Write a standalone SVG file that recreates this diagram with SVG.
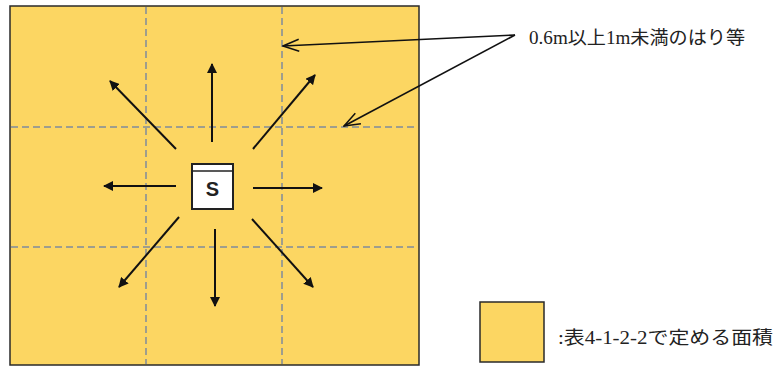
<svg xmlns="http://www.w3.org/2000/svg" width="777" height="367" viewBox="0 0 777 367">
<style>
.area{fill:#FCD662;stroke:#2a2a2a;stroke-width:1.5}
.grid{stroke:#7f8c9c;stroke-width:1.5;stroke-dasharray:7 4;fill:none}
.arr{stroke:#111;stroke-width:2;fill:none;marker-end:url(#solid)}
.call{stroke:#111;stroke-width:1.6;fill:none;marker-end:url(#open)}
.lbl{font-family:"Liberation Serif","Noto Sans CJK JP",serif;font-size:18px;fill:#222}
</style>
<defs>
<marker id="solid" viewBox="0 0 10 10" refX="9" refY="5" markerWidth="5" markerHeight="5" orient="auto" markerUnits="strokeWidth">
<path d="M0,0 L10,5 L0,10 z" fill="#111"/>
</marker>
<marker id="open" viewBox="0 0 18 14" refX="17" refY="7" markerWidth="18" markerHeight="14" orient="auto" markerUnits="userSpaceOnUse">
<path d="M1,1 L17,7 L1,13" fill="none" stroke="#111" stroke-width="1.5"/>
</marker>
</defs>
<rect width="777" height="367" fill="#fff"/>
<g id="area">
<rect class="area" x="10" y="6" width="409" height="359"/>
<line class="grid" x1="146" y1="7" x2="146" y2="364"/>
<line class="grid" x1="282" y1="7" x2="282" y2="364"/>
<line class="grid" x1="11" y1="127" x2="418" y2="127"/>
<line class="grid" x1="11" y1="247" x2="418" y2="247"/>
</g>
<g id="sprinkler">
<rect x="192" y="164" width="41" height="45" fill="#fff" stroke="#222" stroke-width="2"/>
<line x1="192" y1="171" x2="233" y2="171" stroke="#222" stroke-width="1.5"/>
<text x="212.5" y="196" text-anchor="middle" font-family="Liberation Sans,Arial,sans-serif" font-weight="bold" font-size="20" fill="#222">S</text>
</g>
<g id="connectors">
<line class="arr" x1="212" y1="142" x2="212" y2="64"/>
<line class="arr" x1="215" y1="229" x2="215" y2="306"/>
<line class="arr" x1="176" y1="186" x2="104" y2="186"/>
<line class="arr" x1="253" y1="188" x2="322" y2="188"/>
<line class="arr" x1="176" y1="149" x2="110" y2="81"/>
<line class="arr" x1="253" y1="149" x2="315" y2="75"/>
<line class="arr" x1="179" y1="217" x2="119" y2="287"/>
<line class="arr" x1="252" y1="219" x2="313" y2="287"/>
<line class="call" x1="515" y1="35" x2="283" y2="46"/>
<line class="call" x1="515" y1="35" x2="344" y2="126"/>
</g>
<g id="label">
<text class="lbl" x="529" y="44" textLength="216" lengthAdjust="spacingAndGlyphs">0.6m以上1m未満のはり等</text>
</g>
<g id="legend">
<rect class="area" x="480" y="302" width="64" height="60"/>
<text class="lbl" x="558" y="344" font-size="19" textLength="215" lengthAdjust="spacingAndGlyphs">:表4-1-2-2で定める面積</text>
</g>
</svg>
